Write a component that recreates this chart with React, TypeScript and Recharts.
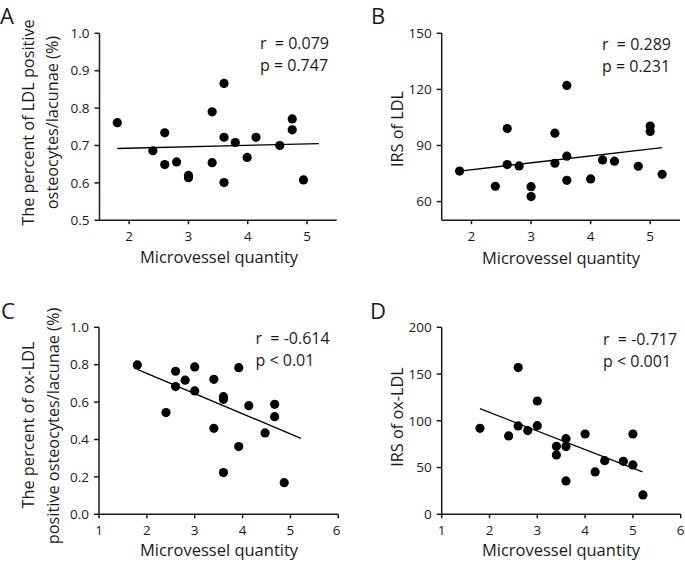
import { ScatterChart, Scatter, XAxis, YAxis, ReferenceLine } from 'recharts';

// microvessel quantity (x) vs. staining measures (y)
const xA = [1.8, 2.4, 2.6, 2.6, 2.8, 3.0, 3.0, 3.4, 3.4, 3.6, 3.6, 3.6, 3.79, 3.99, 4.14, 4.54, 4.75, 4.75, 4.94];
const yA = [0.761, 0.686, 0.734, 0.649, 0.656, 0.62, 0.614, 0.79, 0.654, 0.866, 0.722, 0.601, 0.708, 0.668, 0.722, 0.7, 0.771, 0.742, 0.608];

const xB = [1.8, 2.4, 2.6, 2.6, 2.8, 3.0, 3.0, 3.4, 3.4, 3.6, 3.6, 3.6, 4.0, 4.2, 4.4, 4.8, 5.0, 5.0, 5.2];
const yB = [76.3, 68.2, 99.1, 79.8, 79.1, 68.0, 62.7, 96.6, 80.5, 122.1, 84.3, 71.4, 72.1, 82.3, 81.6, 78.9, 100.4, 97.5, 74.6];

const xC = [1.8, 2.4, 2.6, 2.6, 2.8, 3.0, 3.0, 3.4, 3.4, 3.6, 3.6, 3.6, 3.92, 3.92, 4.13, 4.47, 4.67, 4.67, 4.87];
const yC = [0.799, 0.544, 0.765, 0.683, 0.717, 0.788, 0.66, 0.722, 0.46, 0.629, 0.615, 0.223, 0.784, 0.362, 0.581, 0.435, 0.588, 0.522, 0.169];

const xD = [1.8, 2.4, 2.6, 2.6, 2.8, 3.0, 3.0, 3.4, 3.4, 3.6, 3.6, 3.6, 4.0, 4.21, 4.41, 4.8, 5.0, 5.0, 5.21];
const yD = [92.0, 83.8, 156.9, 94.5, 89.5, 121.2, 94.8, 72.7, 63.5, 80.9, 72.4, 35.7, 85.9, 45.3, 57.4, 56.7, 85.9, 52.8, 20.7];

// regression line end points
const fitXA = [1.8, 5.2];
const fitYA = [0.692, 0.705];
const fitXB = [1.8, 5.2];
const fitYB = [76.3, 88.9];
const fitXC = [1.8, 5.22];
const fitYC = [0.775, 0.406];
const fitXD = [1.8, 5.2];
const fitYD = [113.0, 45.3];

const ticksXTop = [2, 3, 4, 5];
const ticksXBottom = [1, 2, 3, 4, 5, 6];
const ticksYA = [0.5, 0.6, 0.7, 0.8, 0.9, 1.0];
const ticksYB = [60, 90, 120, 150];
const ticksYC = [0, 0.2, 0.4, 0.6, 0.8, 1.0];
const ticksYD = [0, 50, 100, 150, 200];

const INK = '#1a1a1a';
const FONT = '"Open Sans", sans-serif';
const SP = '\u00A0';

const toPoints = (xs: number[], ys: number[]) => xs.map((x, i) => ({ x, y: ys[i] }));

const Dot = (props: any) => <circle cx={props.cx} cy={props.cy} r={4.6} fill="#000" />;

interface PanelProps {
  left: number;
  top: number;
  width: number;
  height: number;
  margin: { top: number; right: number; bottom: number; left: number };
  yWidth: number;
  xDomain: [number, number];
  xTicks: number[];
  yDomain: [number, number];
  yTicks: number[];
  yFmt: (v: number) => string;
  points: { x: number; y: number }[];
  fit: { x: number; y: number }[];
}

function Panel(p: PanelProps) {
  const axisStyle = { stroke: INK, strokeWidth: 1.5 };
  const tickStyle = { fill: INK, fontSize: 13.5, fontFamily: FONT };
  return (
    <div style={{ position: 'absolute', left: p.left, top: p.top }}>
      <ScatterChart width={p.width} height={p.height} margin={p.margin}>
        <XAxis
          type="number"
          dataKey="x"
          domain={p.xDomain}
          ticks={p.xTicks}
          allowDataOverflow
          height={30}
          tickSize={4}
          tickMargin={7}
          axisLine={axisStyle}
          tickLine={axisStyle}
          tick={tickStyle}
        />
        <YAxis
          type="number"
          dataKey="y"
          domain={p.yDomain}
          ticks={p.yTicks}
          allowDataOverflow
          width={p.yWidth}
          tickSize={5}
          tickMargin={5}
          axisLine={axisStyle}
          tickLine={axisStyle}
          tick={tickStyle}
          tickFormatter={p.yFmt}
        />
        <ReferenceLine segment={p.fit} stroke="#000" strokeWidth={1.3} ifOverflow="visible" />
        <Scatter data={p.points} isAnimationActive={false} shape={Dot} />
      </ScatterChart>
    </div>
  );
}

const fmt1 = (v: number) => v.toFixed(1);
const fmt0 = (v: number) => String(v);

export default function App() {
  return (
    <div style={{ position: 'absolute', left: 0, top: 0, width: 685, height: 563, background: '#fff', overflow: 'hidden' }}>
      <Panel
        left={0}
        top={0}
        width={340}
        height={280}
        margin={{ top: 33.3, right: 3.3, bottom: 29.7, left: 0 }}
        yWidth={99.5}
        xDomain={[1.5, 5.5]}
        xTicks={ticksXTop}
        yDomain={[0.5, 1.0]}
        yTicks={ticksYA}
        yFmt={fmt1}
        points={toPoints(xA, yA)}
        fit={toPoints(fitXA, fitYA)}
      />
      <Panel
        left={340}
        top={0}
        width={345}
        height={280}
        margin={{ top: 33.3, right: 5, bottom: 29.7, left: 0 }}
        yWidth={101.7}
        xDomain={[1.5, 5.5]}
        xTicks={ticksXTop}
        yDomain={[50, 150]}
        yTicks={ticksYB}
        yFmt={fmt0}
        points={toPoints(xB, yB)}
        fit={toPoints(fitXB, fitYB)}
      />
      <Panel
        left={0}
        top={280}
        width={340}
        height={283}
        margin={{ top: 47.3, right: 1.7, bottom: 18.7, left: 0 }}
        yWidth={99}
        xDomain={[1, 6]}
        xTicks={ticksXBottom}
        yDomain={[0, 1]}
        yTicks={ticksYC}
        yFmt={fmt1}
        points={toPoints(xC, yC)}
        fit={toPoints(fitXC, fitYC)}
      />
      <Panel
        left={340}
        top={280}
        width={345}
        height={283}
        margin={{ top: 47.3, right: 4.3, bottom: 18.7, left: 0 }}
        yWidth={101.7}
        xDomain={[1, 6]}
        xTicks={ticksXBottom}
        yDomain={[0, 200]}
        yTicks={ticksYD}
        yFmt={fmt0}
        points={toPoints(xD, yD)}
        fit={toPoints(fitXD, fitYD)}
      />

      <svg
        width={685}
        height={563}
        style={{ position: 'absolute', left: 0, top: 0, pointerEvents: 'none' }}
        fontFamily={FONT}
        fill={INK}
      >
        {/* panel letters */}
        <g fontSize={22}>
          <text x={0} y={23.6}>A</text>
          <text x={371} y={23.6}>B</text>
          <text x={1} y={318.5}>C</text>
          <text x={370} y={318.5}>D</text>
        </g>

        {/* statistics */}
        <g fontSize={16}>
          <text x={260} y={48.5}>{`r${SP}${SP}= 0.079`}</text>
          <text x={260} y={70.5}>p = 0.747</text>
          <text x={602} y={49.5}>{`r${SP}${SP}= 0.289`}</text>
          <text x={602} y={71.5}>p = 0.231</text>
          <text x={255.5} y={343.5}>{`r${SP}${SP}= -0.614`}</text>
          <text x={255.5} y={365.5}>p &lt; 0.01</text>
          <text x={603} y={345}>{`r${SP}${SP}= -0.717`}</text>
          <text x={603} y={367}>p &lt; 0.001</text>
        </g>

        {/* x axis titles */}
        <g fontSize={16.5} textAnchor="middle">
          <text x={219} y={263}>Microvessel quantity</text>
          <text x={561} y={264}>Microvessel quantity</text>
          <text x={219} y={555.5}>Microvessel quantity</text>
          <text x={561} y={555.5}>Microvessel quantity</text>
        </g>

        {/* y axis titles */}
        <g fontSize={16.3} textAnchor="middle">
          <text transform="translate(33.5,122.5) rotate(-90)">The percent of LDL positive</text>
          <text transform="translate(57.5,122.5) rotate(-90)">osteocytes/lacunae (%)</text>
          <text transform="translate(402.5,129) rotate(-90)">IRS of LDL</text>
          <text transform="translate(34,425) rotate(-90)">The percent of ox-LDL</text>
          <text transform="translate(58.5,426) rotate(-90)">positive osteocytes/lacunae (%)</text>
          <text transform="translate(402.5,417) rotate(-90)">IRS of ox-LDL</text>
        </g>
      </svg>
    </div>
  );
}
